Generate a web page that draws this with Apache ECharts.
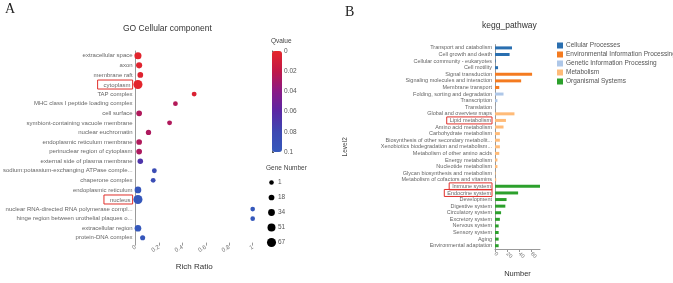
<!DOCTYPE html>
<html>
<head>
<meta charset="utf-8">
<script src="https://cdn.jsdelivr.net/npm/echarts@6/dist/echarts.min.js"></script>
<style>
html, body { margin: 0; padding: 0; background: #fff; }
#chart { width: 673px; height: 283px; }
</style>
</head>
<body>
<div id="chart"></div>
<script>
// panel A: GO cellular component
const goTerms = [
  'extracellular space', 'axon', 'membrane raft', 'cytoplasm', 'TAP complex',
  'MHC class I peptide loading complex', 'cell surface', 'symbiont-containing vacuole membrane',
  'nuclear euchromatin', 'endoplasmic reticulum membrane', 'perinuclear region of cytoplasm',
  'external side of plasma membrane', 'sodium:potassium-exchanging ATPase comple...',
  'chaperone complex', 'endoplasmic reticulum', 'nucleus',
  'nuclear RNA-directed RNA polymerase compl...', 'hinge region between urothelial plaques o...',
  'extracellular region', 'protein-DNA complex'
]
const goRichRatio = [0.02, 0.03, 0.04, 0.02, 0.5, 0.34, 0.03, 0.29, 0.11, 0.03, 0.03, 0.04, 0.16, 0.15, 0.02, 0.02, 1, 1, 0.02, 0.06]
const goQvalue = [0.002, 0.003, 0.004, 0.001, 0.006, 0.025, 0.026, 0.026, 0.027, 0.026, 0.027, 0.068, 0.085, 0.086, 0.098, 0.099, 0.1, 0.1, 0.1, 0.097]
const goGeneNumber = [38, 24, 18, 67, 6, 4, 18, 6, 12, 18, 18, 15, 5, 5, 32, 67, 2, 2, 32, 9]
const goBoxed = ['cytoplasm', 'nucleus']
const geneLegend = [1, 18, 34, 51, 67]

// panel B: kegg pathway level2
const keggPathways = [
  'Transport and catabolism', 'Cell growth and death', 'Cellular community - eukaryotes', 'Cell motility',
  'Signal transduction', 'Signaling molecules and interaction', 'Membrane transport',
  'Folding, sorting and degradation', 'Transcription', 'Translation',
  'Global and overview maps', 'Lipid metabolism', 'Amino acid metabolism', 'Carbohydrate metabolism',
  'Biosynthesis of other secondary metabolit...', 'Xenobiotics biodegradation and metabolism...',
  'Metabolism of other amino acids', 'Energy metabolism', 'Nucleotide metabolism',
  'Glycan biosynthesis and metabolism', 'Metabolism of cofactors and vitamins',
  'Immune system', 'Endocrine system', 'Development', 'Digestive system', 'Circulatory system',
  'Excretory system', 'Nervous system', 'Sensory system', 'Aging', 'Environmental adaptation'
]
const keggCounts = [28, 24, 1, 5, 61, 43, 7, 14, 4, 0.5, 32, 18, 14, 8, 8, 8, 7, 4, 4, 1, 2, 74, 38, 19, 17, 10, 8, 6, 6, 6, 6]
const keggClassIdx = [0, 0, 0, 0, 1, 1, 1, 2, 2, 2, 3, 3, 3, 3, 3, 3, 3, 3, 3, 3, 3, 4, 4, 4, 4, 4, 4, 4, 4, 4, 4]
const keggClasses = ['Cellular Processes', 'Environmental Information Processing', 'Genetic Information Processing', 'Metabolism', 'Organismal Systems']
const keggColors = ['#2a6fb0', '#f47b20', '#aec7e8', '#ffbb78', '#2ca02c']
const keggBoxed = ['Lipid metabolism', 'Immune system', 'Endocrine system']

const geneSize = (g) => 4.5 + g * 0.068
const labelGray = '#666'
const axisGray = '#999'

const chart = echarts.init(document.getElementById('chart'))

const goData = goTerms.map((t, i) => [goRichRatio[i], t, goGeneNumber[i], goQvalue[i]])

const keggSeries = keggClasses.map((name, k) => ({
  name: name,
  type: 'bar',
  xAxisIndex: 3,
  yAxisIndex: 3,
  stack: 'kegg',
  barWidth: 3,
  itemStyle: { color: keggColors[k] },
  data: keggCounts.map((v, i) => keggClassIdx[i] === k ? v : '-')
}))

const option = {
  animation: false,
  textStyle: { fontFamily: 'Liberation Sans, Arial, sans-serif' },
  title: [
    { text: 'A', left: 5, top: 2, padding: 0, textStyle: { fontFamily: 'Liberation Serif', fontSize: 14, fontWeight: 'normal', color: '#222' } },
    { text: 'B', left: 345, top: 5, padding: 0, textStyle: { fontFamily: 'Liberation Serif', fontSize: 14, fontWeight: 'normal', color: '#222' } },
    { text: 'GO Cellular component', left: 123, top: 24, padding: 0, textStyle: { fontSize: 8.5, fontWeight: 'normal', color: '#333' } },
    { text: 'kegg_pathway', left: 482, top: 21, padding: 0, textStyle: { fontSize: 8.5, fontWeight: 'normal', color: '#333' } },
    { text: 'Qvalue', left: 271, top: 38, padding: 0, textStyle: { fontSize: 6.5, fontWeight: 'normal', color: '#444' } },
    { text: 'Gene Number', left: 266, top: 165, padding: 0, textStyle: { fontSize: 6.5, fontWeight: 'normal', color: '#444' } }
  ],
  legend: {
    orient: 'vertical',
    left: 557,
    top: 42,
    padding: 0,
    itemWidth: 6,
    itemHeight: 6,
    itemGap: 2,
    icon: 'rect',
    textStyle: { fontSize: 6.5, color: '#555', padding: [0, 0, 0, -2] },
    data: keggClasses
  },
  visualMap: {
    type: 'continuous',
    seriesIndex: 0,
    dimension: 3,
    min: 0,
    max: 0.1,
    inverse: true,
    calculable: false,
    left: 272,
    top: 51,
    padding: 0,
    itemWidth: 10,
    itemHeight: 101,
    inRange: { color: ['#e5262a', '#c01848', '#8a1a86', '#5a27a4', '#3d48b2', '#3558bb'] }
  },
  grid: [
    { left: 126, width: 126.7, top: 51, height: 191.6 },
    { left: 272, width: 10, top: 51, height: 101 },
    { left: 267, width: 9, top: 175, height: 75 },
    { left: 495, width: 45, top: 44.6, height: 211.5 }
  ],
  xAxis: [
    {
      gridIndex: 0, type: 'value', min: 0, max: 1, interval: 0.2,
      name: 'Rich Ratio', nameLocation: 'middle', nameGap: 20,
      nameTextStyle: { fontSize: 8, color: '#333' },
      axisLine: { lineStyle: { color: axisGray } },
      axisTick: { show: true, length: 3, lineStyle: { color: axisGray } },
      axisLabel: { fontSize: 6, color: '#777', rotate: 30, margin: 4 },
      splitLine: { show: false }
    },
    { gridIndex: 1, type: 'value', show: false },
    { gridIndex: 2, type: 'category', data: ['g'], show: false },
    {
      gridIndex: 3, type: 'value', min: 0, max: 74, interval: 20,
      name: 'Number', nameLocation: 'middle', nameGap: 21,
      nameTextStyle: { fontSize: 7.5, color: '#333' },
      axisLine: { show: true, lineStyle: { color: axisGray } },
      axisTick: { show: true, length: 3, lineStyle: { color: axisGray } },
      axisLabel: { fontSize: 5.5, color: '#777', rotate: -45, margin: 4, showMaxLabel: false },
      splitLine: { show: false }
    }
  ],
  yAxis: [
    {
      gridIndex: 0, type: 'category', data: goTerms, inverse: true,
      axisLine: { lineStyle: { color: axisGray } },
      axisTick: { alignWithLabel: true, length: 3, lineStyle: { color: axisGray } },
      axisLabel: {
        fontSize: 6, color: labelGray, margin: 3, interval: 0,
        formatter: (v) => goBoxed.includes(v) ? '{box|' + v + '}' : v,
        rich: { box: { fontSize: 6, color: labelGray, borderColor: '#e0302b', borderWidth: 1, padding: [2, 2, 1, 6] } }
      }
    },
    {
      gridIndex: 1, type: 'value', min: 0, max: 0.1, interval: 0.02, inverse: true, position: 'right',
      axisLine: { show: true, lineStyle: { color: '#555' } },
      axisTick: { show: true, length: 2, lineStyle: { color: '#555' } },
      axisLabel: { fontSize: 6.5, color: '#555', margin: 2 },
      splitLine: { show: false }
    },
    {
      gridIndex: 2, type: 'category', data: geneLegend.map(String), inverse: true, position: 'right',
      axisLine: { show: false }, axisTick: { show: false },
      axisLabel: { fontSize: 6.5, color: '#555', margin: 2 }
    },
    {
      gridIndex: 3, type: 'category', data: keggPathways, inverse: true,
      name: 'Level2', nameLocation: 'middle', nameGap: 146, nameRotate: 90,
      nameTextStyle: { fontSize: 6.5, color: '#444' },
      axisLine: { lineStyle: { color: axisGray } },
      axisTick: { alignWithLabel: true, length: 3, lineStyle: { color: axisGray } },
      axisLabel: {
        fontSize: 5.5, color: labelGray, margin: 3, interval: 0,
        formatter: (v) => keggBoxed.includes(v) ? '{box|' + v + '}' : v,
        rich: { box: { fontSize: 5.5, color: labelGray, borderColor: '#e0302b', borderWidth: 1, padding: [1, 1, 0, 3] } }
      }
    }
  ],
  series: [
    {
      type: 'scatter',
      xAxisIndex: 0,
      yAxisIndex: 0,
      data: goData,
      symbolSize: (val) => geneSize(val[2]),
      itemStyle: { opacity: 1 }
    },
    {
      type: 'scatter',
      xAxisIndex: 2,
      yAxisIndex: 2,
      data: geneLegend.map((g) => ['g', String(g), g]),
      symbolSize: (val) => geneSize(val[2]),
      itemStyle: { color: '#000', opacity: 1 }
    }
  ].concat(keggSeries)
}

chart.setOption(option)
</script>
</body>
</html>
